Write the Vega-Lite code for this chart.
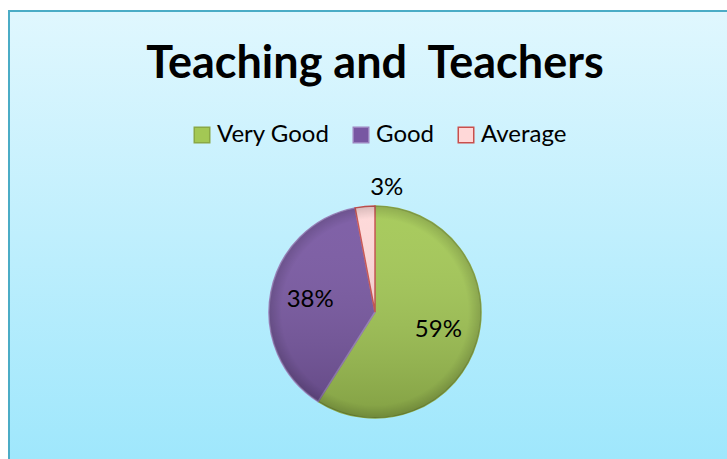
{
  "$schema": "https://vega.github.io/schema/vega-lite/v6.json",
  "autosize": "none",
  "padding": {"left": 9, "top": 11, "right": 0, "bottom": 0},
  "width": 732,
  "height": 602,
  "background": "white",
  "title": {
    "text": "Teaching and \u00a0Teachers",
    "orient": "top",
    "anchor": "middle",
    "frame": "group",
    "offset": -77,
    "font": "Lato",
    "fontWeight": "bold",
    "fontSize": 45,
    "color": "black"
  },
  "data": {
    "values": [
      {"category": "Very Good", "value": 59, "label": "59%", "idx": 1},
      {"category": "Good", "value": 38, "label": "38%", "idx": 2},
      {"category": "Average", "value": 3, "label": "3%", "idx": 3}
    ]
  },
  "layer": [
    {
      "data": {"values": [{}]},
      "mark": {
        "type": "rect",
        "stroke": "#4bacc6",
        "strokeWidth": 2,
        "fill": {"gradient": "linear", "x1": 0, "y1": 0, "x2": 0, "y2": 1, "stops": [{"offset": 0, "color": "#e0f7fe"}, {"offset": 0.745, "color": "#9fe7fc"}, {"offset": 1, "color": "#9fe7fc"}]}
      },
      "encoding": {}
    },
    {
      "mark": {"type": "arc", "outerRadius": 106, "strokeWidth": 1.5},
      "encoding": {
        "theta": {"field": "value", "type": "quantitative", "stack": true},
        "order": {"field": "idx", "type": "quantitative"},
        "color": {
          "field": "category",
          "type": "nominal",
          "sort": ["Very Good", "Good", "Average"],
          "scale": {"domain": ["Very Good", "Good", "Average"], "range": ["#a3c854", "#7857a2", "#ffd8d8"]},
          "legend": {
            "orient": "none",
            "direction": "horizontal",
            "legendX": 181,
            "legendY": 112,
            "title": null,
            "symbolType": "square",
            "symbolSize": 240,
            "symbolStrokeWidth": 1.5,
            "labelFont": "Lato",
            "labelFontSize": 24,
            "labelColor": "black",
            "labelOffset": 3,
            "columnPadding": 19,
            "padding": 0
          }
        },
        "stroke": {
          "field": "category",
          "type": "nominal",
          "sort": ["Very Good", "Good", "Average"],
          "scale": {"domain": ["Very Good", "Good", "Average"], "range": ["#8aa845", "#9c84c0", "#c94f4c"]},
          "legend": null
        }
      }
    },
    {
      "data": {"values": [{}]},
      "mark": {
        "type": "arc",
        "theta": 0,
        "theta2": 6.2832,
        "outerRadius": 106,
        "fill": {"gradient": "linear", "x1": 0, "y1": 0, "x2": 0, "y2": 1, "stops": [{"offset": 0, "color": "rgba(255,255,255,0.06)"}, {"offset": 1, "color": "rgba(0,0,0,0.2)"}]}
      },
      "encoding": {}
    },
    {
      "data": {"values": [{}]},
      "mark": {
        "type": "arc",
        "theta": 0,
        "theta2": 6.2832,
        "outerRadius": 106,
        "fill": {"gradient": "radial", "x1": 0.5, "y1": 0.5, "x2": 0.5, "y2": 0.5, "r1": 0, "r2": 0.5, "stops": [{"offset": 0, "color": "rgba(0,0,0,0)"}, {"offset": 0.88, "color": "rgba(0,0,0,0)"}, {"offset": 1, "color": "rgba(0,0,0,0.15)"}]}
      },
      "encoding": {}
    },
    {
      "transform": [{"filter": "datum.value >= 5"}],
      "mark": {"type": "text", "radius": 66, "font": "Lato", "fontSize": 24, "color": "black"},
      "encoding": {
        "theta": {"field": "value", "type": "quantitative", "stack": true},
        "order": {"field": "idx", "type": "quantitative"},
        "text": {"field": "label"}
      }
    },
    {
      "transform": [{"filter": "datum.value < 5"}],
      "mark": {"type": "text", "radius": 125, "font": "Lato", "fontSize": 24, "color": "black"},
      "encoding": {
        "theta": {"field": "value", "type": "quantitative", "stack": true},
        "order": {"field": "idx", "type": "quantitative"},
        "text": {"field": "label"}
      }
    }
  ],
  "config": {
    "view": {"stroke": null}
  }
}
